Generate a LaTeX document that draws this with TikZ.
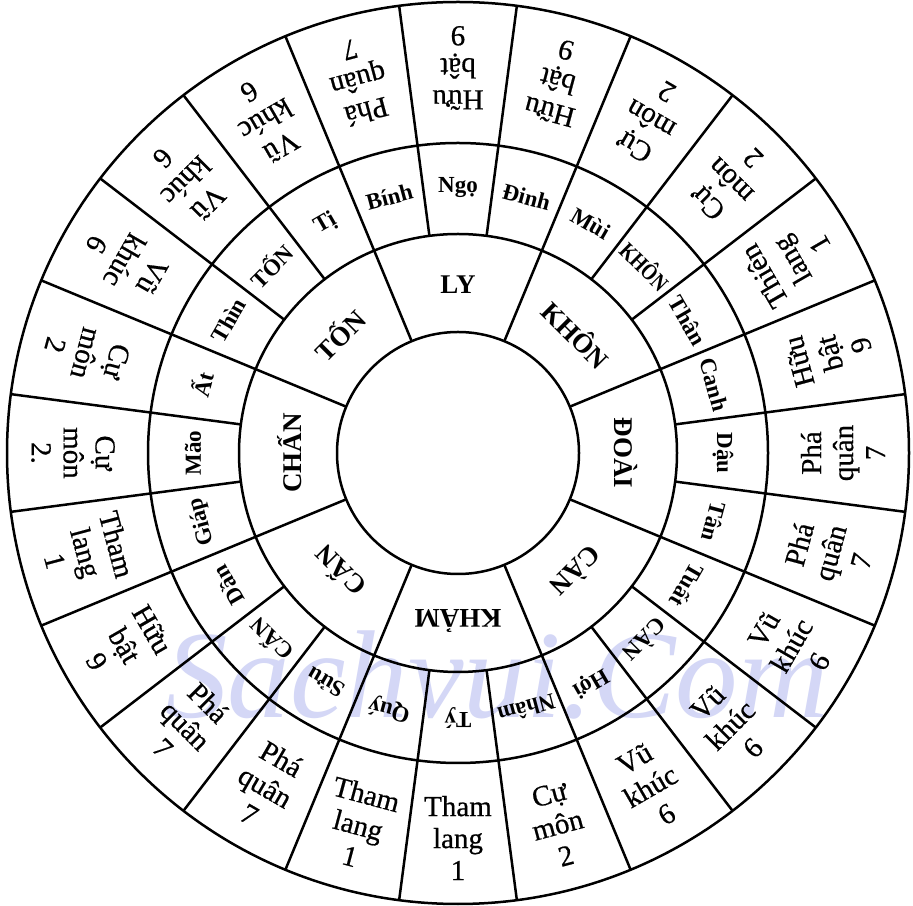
\documentclass[tikz,border=0pt]{standalone}
\usepackage{fontspec}
\setmainfont{Liberation Serif}
\newfontfamily\heavyserif[FakeBold=0.6]{Liberation Serif}
\definecolor{wmcol}{RGB}{212,215,246}
\newsavebox\mtnbox
\newcommand\fitw[1]{\sbox\mtnbox{#1}%
  \ifdim\wd\mtnbox>58pt\relax
    \pgfmathsetmacro\fwfac{58/\wd\mtnbox}\scalebox{\fwfac}[1]{\usebox\mtnbox}%
  \else\usebox\mtnbox\fi}
\begin{document}
\begin{tikzpicture}[x=1pt,y=1pt,
  ring/.style={line width=2.5pt},
  tri/.style={font=\fontsize{27}{29}\selectfont\bfseries, inner sep=0pt},
  mtn/.style={font=\fontsize{23}{25}\selectfont\bfseries, inner sep=0pt},
  star/.style={font=\heavyserif\fontsize{29}{32}\selectfont, align=center, inner sep=0pt},
  wm/.style={font=\fontsize{125}{125}\selectfont\itshape, text=wmcol, inner sep=0pt}]
\useasboundingbox (0,0) rectangle (913,905);
\fill[white] (0,0) rectangle (913,905);
\coordinate (c) at (458,452);
\node[wm, anchor=base] (wmk) at (497,187) {Sachvui.Com};
% rings
\draw[ring] (c) circle[radius=121pt] (c) circle[radius=219pt]
            (c) circle[radius=310pt] (c) circle[radius=451pt];
% radial lines
\foreach \k in {0,...,23}{
  \pgfmathsetmacro\a{7.5+15*\k}
  \draw[ring] ([shift={(\a:219pt)}]c) -- ([shift={(\a:451pt)}]c);
}
\foreach \k in {0,...,7}{
  \pgfmathsetmacro\a{22.5+45*\k}
  \draw[ring] ([shift={(\a:121pt)}]c) -- ([shift={(\a:219pt)}]c);
}
% trigrams
\foreach \a/\t [count=\i] in {90/LY, 45/KHÔN, 0/ĐOÀI, -45/CÀN, -90/KHẢM, -135/CẤN, 180/CHẤN, 135/TỐN}
  \node[tri, rotate=\a-90] (t\i) at ([shift={(\a:168pt)}]c) {\t};
% 24 mountains
\foreach \a/\t [count=\i] in {90/Ngọ, 75/Đinh, 60/Mùi, 45/KHÔN, 30/Thân, 15/Canh, 0/Dậu, -15/Tân,
  -30/Tuất, -45/CÀN, -60/Hợi, -75/Nhâm, -90/Tý, -105/Quý, -120/Sửu, -135/CẤN,
  -150/Dần, -165/Giáp, 180/Mão, 165/Ất, 150/Thìn, 135/TỐN, 120/Tị, 105/Bính}
  \node[mtn, rotate=\a-90] (m\i) at ([shift={(\a:265pt)}]c) {\fitw{\t}};
% stars
\foreach \a/\t [count=\i] in {90/Hữu\\bật\\9, 75/Hữu\\bật\\9, 60/Cự\\môn\\2, 45/Cự\\môn\\2,
  30/Thiên\\lang\\1, 15/Hữu\\bật\\9, 0/Phá\\quân\\7, -15/Phá\\quân\\7,
  -30/Vũ\\khúc\\6, -45/Vũ\\khúc\\6, -60/Vũ\\khúc\\6, -75/Cự\\môn\\2,
  -90/Tham\\lang\\1, -105/Tham\\lang\\1, -120/Phá\\quân\\7, -135/Phá\\quân\\7,
  -150/Hữu\\bật\\9, -165/Tham\\lang\\1, 180/Cự\\môn\\2., 165/Cự\\môn\\2,
  150/Vũ\\khúc\\6, 135/Vũ\\khúc\\6, 120/Vũ\\khúc\\6, 105/Phá\\quân\\7}
  \node[star, rotate=\a+90] (s\i) at ([shift={(\a:385pt)}]c) {\t};
\end{tikzpicture}
\end{document}
